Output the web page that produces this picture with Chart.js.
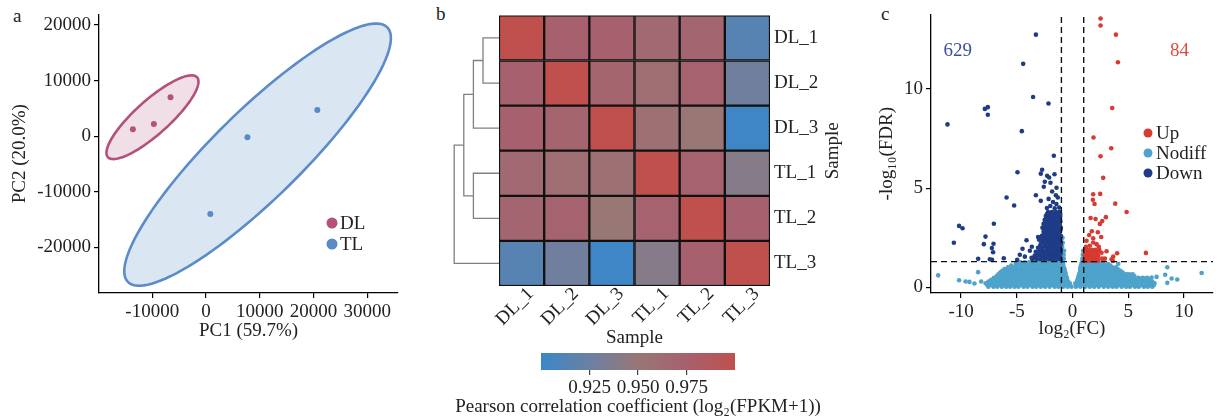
<!DOCTYPE html>
<html>
<head>
<meta charset="utf-8">
<script src="https://cdn.jsdelivr.net/npm/chart.js@4.4.1/dist/chart.umd.min.js"></script>
<style>
  body { margin: 0; background: #fff; }
  #wrap { position: relative; width: 1219px; height: 420px; overflow: hidden; background: #fff;
          font-family: 'Liberation Serif', 'Times New Roman', serif; }
  canvas { position: absolute; }
  .tag { position: absolute; font-size: 19px; line-height: 19px; color: #222; }
</style>
</head>
<body>
<div id="wrap">
  <div class="tag" style="left:13px;top:6px">a</div>
  <div class="tag" style="left:436px;top:4px">b</div>
  <div class="tag" style="left:881px;top:4px">c</div>
  <canvas id="pca" width="420" height="345" style="left:0;top:0"></canvas>
  <canvas id="heat" width="420" height="350" style="left:440px;top:0"></canvas>
  <canvas id="cbar" width="420" height="75" style="left:440px;top:345px"></canvas>
  <canvas id="volcano" width="349" height="345" style="left:870px;top:0"></canvas>
</div>
<script>
// ---- panel a : PCA ----
var dlScores = [[-13600, 1250], [-9700, 2200], [-6600, 7000]];
var tlScores = [[7700, -200], [20700, 4700], [800, -14000]];
var pcaXTicks = [-10000, 0, 10000, 20000, 30000];
var pcaYTicks = [-20000, -10000, 0, 10000, 20000];
// confidence ellipses: centre + two half-axis vectors (PC units)
var dlEllipse = { c: [-9960, 3410], a: [8290, 7180], b: [2120, -2265] };
var tlEllipse = { c: [9590, -3320], a: [24115, 22890], b: [5750, -5635] };

// ---- panel b : sample correlation ----
var samples = ['DL_1', 'DL_2', 'DL_3', 'TL_1', 'TL_2', 'TL_3'];
var corr = [
  [1.000, 0.975, 0.975, 0.965, 0.968, 0.915],
  [0.975, 1.000, 0.970, 0.960, 0.972, 0.928],
  [0.975, 0.970, 1.000, 0.958, 0.950, 0.902],
  [0.965, 0.960, 0.958, 1.000, 0.973, 0.940],
  [0.968, 0.972, 0.950, 0.973, 1.000, 0.975],
  [0.915, 0.928, 0.902, 0.940, 0.975, 1.000]
];
var colorTicks = [0.925, 0.950, 0.975];
// dendrogram merges [node, node, height]; node ids >= 6 are earlier merges
var merges = [[0, 1, 0.025], [6, 2, 0.040], [3, 4, 0.040], [7, 8, 0.055], [9, 5, 0.070]];

// ---- panel c : volcano ----
var downCount = 629, upCount = 84;
var fcCut = 1, fdrCut = 1.301;
var volXTicks = [-10, -5, 0, 5, 10];
var volYTicks = [0, 5, 10];
// rows: [ -log10(FDR), log2FC, log2FC, ... ]
var nodiffRows = [
  [0.04, -7.55, -7.1, -6.75, -6.35, -5.95, -5.6, -5.2, -4.85, -4.4, -4.05, -3.6, -3.25, -2.85, -2.45, -2.05, -1.6, -1.25, -0.85, -0.45, -0.1, 0.3, 0.7, 1.15, 1.55, 1.95, 2.35, 2.8, 3.2, 3.6, 3.95, 4.4, 4.8, 5.15, 5.6, 5.95, 6.4, 6.75, 7.15],
  [0.12, -7.65, -7.25, -6.9, -6.5, -6.1, -5.75, -5.35, -4.95, -4.55, -4.15, -3.75, -3.4, -3.0, -2.6, -2.2, -1.8, -1.45, -1.05, -0.65, -0.3, 0.3, 0.5, 0.9, 1.3, 1.75, 2.15, 2.55, 2.95, 3.4, 3.8, 4.2, 4.6, 5.0, 5.4, 5.8, 6.2, 6.55, 6.95, 7.3],
  [0.21, -7.8, -7.4, -7.0, -6.55, -6.15, -5.8, -5.4, -5.0, -4.6, -4.2, -3.8, -3.4, -3.0, -2.6, -2.2, -1.8, -1.4, -1.0, -0.6, -0.25, 0.25, 0.55, 0.95, 1.35, 1.75, 2.15, 2.6, 3.0, 3.4, 3.8, 4.2, 4.6, 5.0, 5.4, 5.8, 6.2, 6.6, 7.0, 7.35],
  [0.30, -7.55, -7.2, -6.8, -6.35, -5.95, -5.6, -5.2, -4.8, -4.4, -4.0, -3.6, -3.2, -2.8, -2.4, -2.0, -1.6, -1.2, -0.8, -0.4, 0.4, 0.75, 1.15, 1.55, 1.95, 2.35, 2.75, 3.2, 3.6, 4.0, 4.4, 4.8, 5.2, 5.6, 6.0, 6.4, 6.8, 7.15],
  [0.39, -7.3, -6.9, -6.5, -6.1, -5.7, -5.3, -4.9, -4.5, -4.1, -3.7, -3.3, -2.9, -2.5, -2.1, -1.7, -1.3, -0.9, -0.5, 0.45, 0.85, 1.25, 1.65, 2.05, 2.5, 2.9, 3.3, 3.7, 4.1, 4.5, 4.9, 5.3, 5.7, 6.1, 6.5, 6.9],
  [0.48, -7.05, -6.7, -6.3, -5.9, -5.5, -5.1, -4.7, -4.3, -3.9, -3.5, -3.1, -2.7, -2.3, -1.9, -1.5, -1.1, -0.7, -0.5, 0.5, 0.65, 1.05, 1.45, 1.85, 2.25, 2.7, 3.1, 3.5, 3.9, 4.3, 4.7, 5.1, 5.5, 5.9, 6.3, 6.7],
  [0.57, -6.8, -6.4, -6.0, -5.6, -5.2, -4.8, -4.4, -4.0, -3.6, -3.2, -2.8, -2.4, -2.0, -1.6, -1.2, -0.85, -0.6, 0.55, 0.8, 1.2, 1.6, 2.0, 2.4, 2.8, 3.2, 3.6, 4.0, 4.4, 4.8, 5.2, 5.55],
  [0.66, -6.65, -6.2, -5.8, -5.4, -5.0, -4.6, -4.2, -3.8, -3.4, -3.0, -2.6, -2.2, -1.8, -1.4, -1.0, -0.62, 0.6, 1.0, 1.4, 1.8, 2.2, 2.6, 3.0, 3.4, 3.8, 4.2, 4.6, 5.0, 5.4],
  [0.75, -6.5, -6.1, -5.7, -5.3, -4.9, -4.5, -4.1, -3.7, -3.3, -2.9, -2.5, -2.1, -1.7, -1.3, -0.95, -0.65, 0.65, 0.95, 1.3, 1.7, 2.1, 2.5, 2.9, 3.3, 3.7, 4.1, 4.5],
  [0.84, -6.3, -5.9, -5.5, -5.1, -4.7, -4.3, -3.9, -3.5, -3.1, -2.7, -2.3, -1.9, -1.5, -1.1, -0.7, 0.68, 1.1, 1.5, 1.9, 2.3, 2.7, 3.1, 3.5, 3.9, 4.3],
  [0.93, -6.1, -5.6, -5.2, -4.8, -4.4, -4.0, -3.6, -3.2, -2.8, -2.4, -2.0, -1.6, -1.25, -0.95, -0.72, 0.7, 0.95, 1.3, 1.7, 2.1, 2.5, 2.9, 3.3, 3.7, 4.05],
  [1.02, -5.8, -5.4, -5.0, -4.6, -4.2, -3.8, -3.4, -3.0, -2.6, -2.2, -1.8, -1.4, -1.05, -0.8, 0.72, 1.15, 1.55, 1.95, 2.35, 2.75, 3.15, 3.55, 3.9],
  [1.10, -5.5, -5.05, -4.6, -4.2, -3.8, -3.4, -3.0, -2.6, -2.2, -1.8, -1.45, -1.1, -0.85, 0.75, 1.0, 1.4, 1.8, 2.2, 2.6, 3.0, 3.4],
  [1.18, -5.1, -4.8, -4.4, -4.0, -3.6, -3.2, -2.8, -2.4, -2.0, -1.65, -1.3, -1.0, -0.85, 0.8, 1.2, 1.6, 2.0, 2.4, 2.8, 3.2],
  [1.26, -4.7, -4.3, -3.9, -3.5, -3.1, -2.7, -2.3, -1.9, -1.5, -1.15, -0.9, 0.85, 1.1, 1.5, 1.9, 2.3, 2.7],
  [1.45, -0.92, -0.78, 0.88],
  [1.65, -0.95, -0.8, 0.92],
  [1.85, -0.9, -0.76, 0.95],
  [2.05, -0.93],
  [2.25, -0.88],
  [2.50, -0.9]
];
var nodiffLoose = [[-12.06, 0.61], [-10.18, 0.36], [-9.6, 0.3], [-9.25, 0.28], [-8.8, 0.2], [-8.47, 0.77], [-8.2, 0.3],
  [3.05, 0.94], [3.5, 0.89], [4.1, 1.19], [4.85, 0.66], [5.23, 0.65], [6.04, 0.45], [6.53, 0.45], [7.09, 0.5], [7.54, 0.53],
  [8.31, 0.64], [8.5, 1.02], [8.5, 0.23], [8.89, 0.45], [9.39, 0.4], [11.58, 0.73]];
var downRows = [
  [3.80, -2.2, -1.85, -1.5, -1.2],
  [3.70, -2.3, -2.0, -1.65, -1.3, -1.1],
  [3.60, -2.4, -2.05, -1.7, -1.35, -1.1],
  [3.50, -2.3, -1.95, -1.6, -1.3],
  [3.40, -2.5, -2.15, -1.8, -1.45, -1.12],
  [3.30, -2.4, -2.05, -1.7, -1.35, -1.1],
  [3.20, -2.6, -2.25, -1.9, -1.55, -1.2],
  [3.10, -2.5, -2.15, -1.8, -1.45, -1.12],
  [3.00, -2.7, -2.35, -2.0, -1.65, -1.3, -1.05],
  [2.90, -2.45, -2.1, -1.75, -1.4, -1.08],
  [2.80, -2.6, -2.25, -1.9, -1.55, -1.2],
  [2.70, -2.55, -2.2, -1.85, -1.5, -1.2],
  [2.60, -2.75, -2.4, -2.05, -1.7, -1.35, -1.05],
  [2.50, -2.9, -2.45, -2.1, -1.75, -1.4, -1.08],
  [2.40, -3.0, -2.6, -2.25, -1.9, -1.55, -1.2],
  [2.30, -2.7, -2.4, -2.05, -1.7, -1.35, -1.05],
  [2.20, -2.85, -2.45, -2.1, -1.75, -1.4, -1.05],
  [2.10, -2.9, -2.5, -2.15, -1.8, -1.45, -1.1],
  [2.00, -3.1, -2.7, -2.3, -1.95, -1.6, -1.25],
  [1.90, -2.75, -2.35, -2.0, -1.62, -1.3, -1.05],
  [1.80, -3.3, -2.55, -2.15, -1.8, -1.45, -1.08],
  [1.70, -3.15, -2.8, -2.45, -2.1, -1.75, -1.4, -1.08],
  [1.60, -3.4, -3.0, -2.65, -2.3, -1.95, -1.6, -1.25],
  [1.50, -3.3, -2.8, -2.45, -2.1, -1.8, -1.45, -1.1],
  [1.42, -3.6, -3.2, -2.85, -2.5, -2.1, -1.75, -1.4, -1.06]
];
var downLoose = [[-3.29, 12.73], [-4.43, 11.26], [-3.54, 9.59], [-2.16, 9.26], [-7.87, 8.99], [-7.6, 9.08], [-7.6, 8.7],
  [-11.22, 8.21], [-4.55, 7.87], [-1.68, 6.63], [-4.94, 5.8], [-5.92, 4.53], [-5.24, 4.13], [-7.06, 3.21], [-10.18, 3.1],
  [-9.87, 2.98], [-10.65, 2.25], [-7.81, 2.56], [-7.96, 2.18], [-7.09, 2.2], [-7.24, 1.98], [-7.13, 1.77], [-8.47, 1.44],
  [-7.42, 1.42], [-7.22, 1.39], [-6.17, 1.47], [-4.13, 2.38], [-4.49, 1.95], [-3.83, 1.85], [-3.65, 2.05], [-4.73, 1.65],
  [-4.28, 1.55], [-3.68, 1.49], [-3.23, 1.77], [-2.94, 1.85], [-4.97, 1.39], [-3.09, 2.54], [-2.78, 2.51], [-2.25, 2.84],
  [-2.49, 2.68], [-2.73, 5.93], [-2.85, 5.73], [-2.28, 5.62], [-2.1, 5.54], [-1.62, 5.7], [-2.49, 5.32], [-1.98, 5.27],
  [-1.44, 5.02], [-2.58, 5.07], [-1.83, 4.83], [-1.5, 4.64], [-3.29, 4.64], [-2.85, 4.36], [-2.15, 4.46], [-1.32, 4.53],
  [-1.75, 4.3], [-1.45, 4.2], [-2.0, 4.1], [-1.2, 4.02], [-2.3, 4.0], [-1.6, 3.98]];
var upRows = [
  [2.05, 1.2, 2.35],
  [1.90, 1.1, 1.4, 1.75, 2.05, 2.4],
  [1.82, 1.25, 1.62, 2.0, 2.35],
  [1.75, 1.2, 1.5, 1.85, 2.2, 2.6],
  [1.68, 1.12, 1.45, 1.75],
  [1.60, 1.08, 1.35, 1.65, 2.0, 2.3],
  [1.52, 1.25, 1.55, 1.9, 2.25],
  [1.45, 1.15, 1.45, 1.8, 2.15, 2.65],
  [1.35, 1.05, 1.3, 1.6, 1.95, 2.3]
];
var upLoose = [[2.51, 13.54], [2.51, 13.19], [3.89, 12.73], [4.07, 11.34], [3.56, 9.04], [1.88, 7.55], [3.47, 7.01],
  [2.51, 6.61], [2.75, 5.52], [1.85, 4.69], [2.48, 4.71], [1.82, 4.41], [1.97, 4.2], [3.83, 4.22], [4.85, 3.8],
  [1.62, 3.5], [2.06, 3.45], [2.66, 3.34], [2.45, 3.2], [2.99, 3.54], [1.73, 2.83], [2.27, 2.78], [2.57, 2.54],
  [1.85, 2.48], [1.49, 2.64], [1.26, 2.35], [1.85, 2.26], [2.15, 2.18], [1.55, 2.1], [3.05, 1.82], [3.65, 1.55],
  [4.0, 1.72], [6.58, 1.74], [3.5, 1.42], [3.62, 1.33], [2.9, 1.45]];

var FONT = "'Liberation Serif', 'Times New Roman', serif";
Chart.defaults.font.family = FONT;
Chart.defaults.font.size = 19;
Chart.defaults.color = '#222';
Chart.defaults.animation = false;
Chart.defaults.plugins.legend.display = false;
Chart.defaults.plugins.tooltip.enabled = false;

function toXY(pairs) {
  return pairs.map(function (p) { return { x: p[0], y: p[1] }; });
}
function fromRows(rows) {
  var out = [];
  rows.forEach(function (r) {
    for (var i = 1; i < r.length; i++) out.push({ x: r[i], y: r[0] });
  });
  return out;
}
function fixedTicks(vals) {
  return function (scale) { scale.ticks = vals.map(function (v) { return { value: v }; }); };
}
function plainAxis(extra) {
  var o = {
    type: 'linear',
    border: { display: true, color: '#000', width: 1.3 },
    grid: { display: true, drawOnChartArea: false, drawTicks: true, tickLength: 5, color: '#000', lineWidth: 1.2 },
    ticks: { padding: 3, callback: function (v) { return String(v); } }
  };
  for (var k in extra) o[k] = extra[k];
  return o;
}

// ---------- a: PCA ----------
function drawEllipse(chart, e, stroke, fill) {
  var xs = chart.scales.x, ys = chart.scales.y, ctx = chart.ctx;
  ctx.save();
  ctx.beginPath();
  for (var k = 0; k <= 120; k++) {
    var t = k / 120 * 2 * Math.PI;
    var px = xs.getPixelForValue(e.c[0] + e.a[0] * Math.cos(t) + e.b[0] * Math.sin(t));
    var py = ys.getPixelForValue(e.c[1] + e.a[1] * Math.cos(t) + e.b[1] * Math.sin(t));
    if (k === 0) ctx.moveTo(px, py); else ctx.lineTo(px, py);
  }
  ctx.closePath();
  ctx.fillStyle = fill;
  ctx.fill();
  ctx.lineWidth = 2.6;
  ctx.strokeStyle = stroke;
  ctx.stroke();
  ctx.restore();
}

var pcaPlugin = {
  id: 'pcaExtras',
  beforeDatasetsDraw: function (chart) {
    drawEllipse(chart, tlEllipse, '#5b8bc9', 'rgba(91,139,201,0.22)');
    drawEllipse(chart, dlEllipse, '#b4507e', 'rgba(180,80,126,0.18)');
  },
  afterDraw: function (chart) {
    var ctx = chart.ctx;
    var items = [['DL', '#b5527c', 223], ['TL', '#5a8ac6', 244]];
    ctx.save();
    ctx.font = '19px ' + FONT;
    ctx.textBaseline = 'middle';
    items.forEach(function (it) {
      ctx.fillStyle = it[1];
      ctx.beginPath(); ctx.arc(332, it[2], 5.5, 0, 2 * Math.PI); ctx.fill();
      ctx.fillStyle = '#222';
      ctx.fillText(it[0], 340, it[2] + 1);
    });
    ctx.restore();
  }
};

new Chart(document.getElementById('pca'), {
  type: 'scatter',
  data: {
    datasets: [
      { data: toXY(dlScores), backgroundColor: '#b5527c', pointRadius: 3, borderWidth: 0 },
      { data: toXY(tlScores), backgroundColor: '#5a8ac6', pointRadius: 3, borderWidth: 0 }
    ]
  },
  options: {
    responsive: false,
    layout: { padding: { left: 0, top: 14, right: 22, bottom: 0 } },
    scales: {
      x: plainAxis({
        min: -19900, max: 35700,
        afterBuildTicks: fixedTicks(pcaXTicks),
        afterFit: function (s) { s.height = 52; },
        title: { display: true, text: 'PC1 (59.7%)', padding: { top: 0, bottom: 3 } }
      }),
      y: plainAxis({
        min: -28200, max: 21900,
        afterBuildTicks: fixedTicks(pcaYTicks),
        afterFit: function (s) { s.width = 99; },
        title: { display: true, text: 'PC2 (20.0%)', padding: { top: 9, bottom: 0 } }
      })
    }
  },
  plugins: [pcaPlugin]
});

// ---------- b: correlation heatmap ----------
var stopVals = [0.900, 0.925, 0.950, 0.975, 1.000];
var stopCols = [[58, 135, 200], [107, 128, 164], [152, 119, 117], [167, 96, 110], [192, 80, 77]];
function corrColor(v) {
  if (v <= stopVals[0]) return 'rgb(' + stopCols[0].join(',') + ')';
  for (var i = 1; i < stopVals.length; i++) {
    if (v <= stopVals[i]) {
      var f = (v - stopVals[i - 1]) / (stopVals[i] - stopVals[i - 1]);
      var a = stopCols[i - 1], b = stopCols[i];
      return 'rgb(' + [0, 1, 2].map(function (k) { return Math.round(a[k] + f * (b[k] - a[k])); }).join(',') + ')';
    }
  }
  return 'rgb(' + stopCols[stopCols.length - 1].join(',') + ')';
}

var heatSets = [];
for (var r = samples.length - 1; r >= 0; r--) {
  heatSets.push({
    label: samples[r],
    data: corr[r].map(function () { return 1; }),
    backgroundColor: corr[r].map(corrColor),
    borderColor: '#111',
    borderWidth: 1.5,
    borderSkipped: false,
    barPercentage: 1,
    categoryPercentage: 1
  });
}

var dendroPlugin = {
  id: 'dendro',
  afterDraw: function (chart) {
    var ctx = chart.ctx, ys = chart.scales.y, left = chart.chartArea.left;
    var pos = [];
    samples.forEach(function (s, i) { pos.push([left, ys.getPixelForValue(samples.length - 0.5 - i)]); });
    ctx.save();
    ctx.strokeStyle = '#808080';
    ctx.lineWidth = 1.3;
    merges.forEach(function (m) {
      var p = pos[m[0]], q = pos[m[1]], x = left - m[2] * 640;
      ctx.beginPath();
      ctx.moveTo(p[0], p[1]); ctx.lineTo(x, p[1]); ctx.lineTo(x, q[1]); ctx.lineTo(q[0], q[1]);
      ctx.stroke();
      pos.push([x, (p[1] + q[1]) / 2]);
    });
    // right-hand axis title, reading bottom to top
    ctx.translate(393, (chart.chartArea.top + chart.chartArea.bottom) / 2);
    ctx.rotate(-Math.PI / 2);
    ctx.font = '19px ' + FONT;
    ctx.fillStyle = '#222';
    ctx.textAlign = 'center';
    ctx.textBaseline = 'middle';
    ctx.fillText('Sample', 0, 0);
    ctx.restore();
  }
};

new Chart(document.getElementById('heat'), {
  type: 'bar',
  data: { labels: samples, datasets: heatSets },
  options: {
    responsive: false,
    layout: { padding: { left: 59, top: 14, right: 0, bottom: 0 } },
    scales: {
      x: {
        stacked: true,
        border: { display: false },
        grid: { display: false, drawTicks: false },
        ticks: { minRotation: 45, maxRotation: 45, autoSkip: false, padding: -3, labelOffset: 9 },
        afterFit: function (s) { s.height = 64; },
        title: { display: true, text: 'Sample', padding: { top: 0, bottom: 1 } }
      },
      y: {
        type: 'linear', stacked: true, position: 'right', min: 0, max: samples.length,
        border: { display: false },
        grid: { display: false, drawTicks: false },
        afterBuildTicks: function (s) {
          s.ticks = samples.map(function (n, i) { return { value: samples.length - 0.5 - i }; });
        },
        ticks: { padding: 4, callback: function (v) { return samples[Math.round(samples.length - 0.5 - v)]; } },
        afterFit: function (s) { s.width = 90; }
      }
    }
  },
  plugins: [dendroPlugin]
});

// colour bar
var cbarPlugin = {
  id: 'cbar',
  beforeDatasetsDraw: function (chart) {
    var ctx = chart.ctx, a = chart.chartArea, xs = chart.scales.x;
    var g = ctx.createLinearGradient(a.left, 0, a.right, 0);
    stopVals.forEach(function (v, i) {
      var f = (xs.getPixelForValue(v) - a.left) / (a.right - a.left);
      g.addColorStop(Math.min(1, Math.max(0, f)), 'rgb(' + stopCols[i].join(',') + ')');
    });
    ctx.save();
    ctx.fillStyle = g;
    ctx.fillRect(a.left, a.top, a.right - a.left, a.bottom - a.top);
    ctx.restore();
  },
  afterDraw: function (chart) {
    var ctx = chart.ctx;
    ctx.save();
    ctx.font = '19px ' + FONT;
    ctx.fillStyle = '#222';
    ctx.textAlign = 'center';
    ctx.textBaseline = 'middle';
    ctx.fillText('Pearson correlation coefficient (log\u2082(FPKM+1))', 198, 62);
    ctx.restore();
  }
};

new Chart(document.getElementById('cbar'), {
  type: 'scatter',
  data: { datasets: [{ data: [] }] },
  options: {
    responsive: false,
    layout: { padding: { left: 101, top: 8, right: 125, bottom: 0 } },
    scales: {
      x: {
        type: 'linear', min: 0.9, max: 1.0,
        border: { display: false },
        grid: { display: true, drawOnChartArea: false, drawTicks: true, tickLength: 5, color: '#444', lineWidth: 1.2 },
        afterBuildTicks: fixedTicks(colorTicks),
        ticks: { padding: 2, callback: function (v) { return v.toFixed(3); } },
        afterFit: function (s) { s.height = 50; }
      },
      y: { display: false, min: 0, max: 1 }
    }
  },
  plugins: [cbarPlugin]
});

// ---------- c: volcano ----------
var volXMin = -12.7, volXMax = 12.6, volYMin = -0.28, volYMax = 13.75;
var volPlugin = {
  id: 'volExtras',
  afterDraw: function (chart) {
    var ctx = chart.ctx, xs = chart.scales.x, ys = chart.scales.y;
    ctx.save();
    ctx.font = '19px ' + FONT;
    ctx.textAlign = 'center';
    ctx.textBaseline = 'middle';
    ctx.fillStyle = '#3a4f9e';
    ctx.fillText(String(downCount), xs.getPixelForValue(-10.3), ys.getPixelForValue(11.9));
    ctx.fillStyle = '#e04b3e';
    ctx.fillText(String(upCount), xs.getPixelForValue(9.6), ys.getPixelForValue(11.9));
    var items = [['Up', '#d83a30', 133], ['Nodiff', '#4da3cc', 153], ['Down', '#1f3c88', 173]];
    ctx.textAlign = 'left';
    items.forEach(function (it) {
      ctx.fillStyle = it[1];
      ctx.beginPath(); ctx.arc(278, it[2], 4.5, 0, 2 * Math.PI); ctx.fill();
      ctx.fillStyle = '#222';
      ctx.fillText(it[0], 286, it[2] + 1);
    });
    ctx.restore();
  }
};

function dashLine(pts) {
  return { type: 'line', data: toXY(pts), showLine: true, pointRadius: 0, borderColor: '#111',
           borderWidth: 1.4, borderDash: [6, 4], fill: false };
}

new Chart(document.getElementById('volcano'), {
  type: 'scatter',
  data: {
    datasets: [
      dashLine([[-fcCut, volYMin], [-fcCut, volYMax]]),
      dashLine([[fcCut, volYMin], [fcCut, volYMax]]),
      dashLine([[volXMin, fdrCut], [volXMax, fdrCut]]),
      { label: 'Up', data: fromRows(upRows).concat(toXY(upLoose)), backgroundColor: '#d83a30', pointRadius: 2.3, borderWidth: 0 },
      { label: 'Down', data: fromRows(downRows).concat(toXY(downLoose)), backgroundColor: '#1f3c88', pointRadius: 2.3, borderWidth: 0 },
      { label: 'Nodiff', data: fromRows(nodiffRows).concat(toXY(nodiffLoose)), backgroundColor: '#4da3cc', pointRadius: 2.3, borderWidth: 0 }
    ]
  },
  options: {
    responsive: false,
    layout: { padding: { left: 0, top: 10, right: 6, bottom: 0 } },
    scales: {
      x: plainAxis({
        min: volXMin, max: volXMax,
        afterBuildTicks: fixedTicks(volXTicks),
        afterFit: function (s) { s.height = 52; },
        title: { display: true, text: 'log\u2082(FC)', padding: { top: 0, bottom: 5 } }
      }),
      y: plainAxis({
        min: volYMin, max: volYMax,
        afterBuildTicks: fixedTicks(volYTicks),
        afterFit: function (s) { s.width = 61; },
        title: { display: true, text: '-log\u2081\u2080(FDR)', padding: { top: 6, bottom: 0 } }
      })
    }
  },
  plugins: [volPlugin]
});
</script>
</body>
</html>
